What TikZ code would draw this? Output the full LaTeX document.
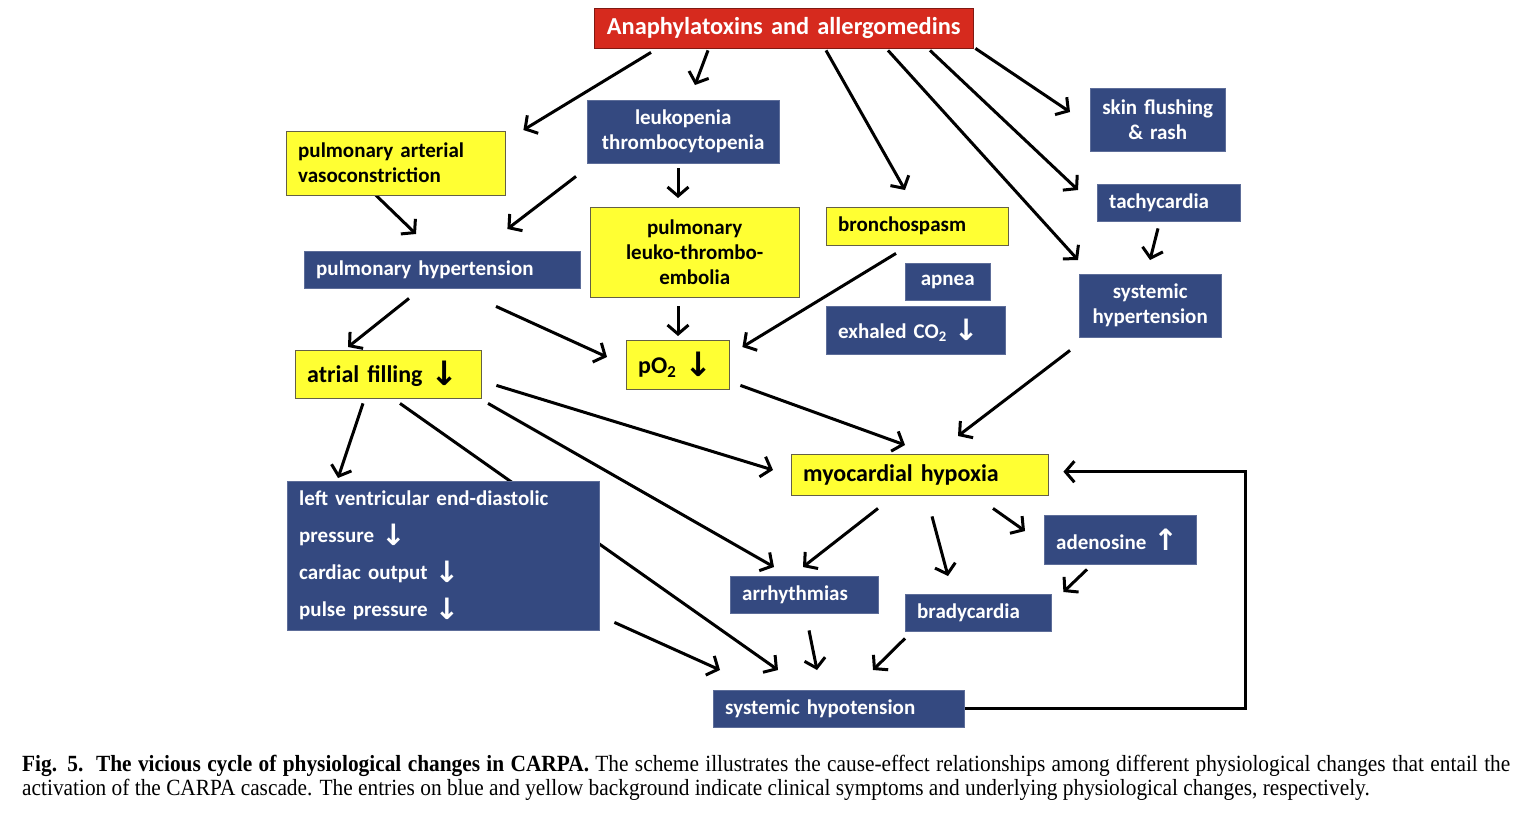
\documentclass[tikz,border=0pt]{standalone}
\usepackage{fontspec}
\setmainfont{Carlito}
\newfontfamily\capfont[FakeStretch=0.92]{Liberation Serif}
\newfontfamily\symfont{DejaVu Sans}
\usetikzlibrary{arrows.meta, calc, backgrounds}
\definecolor{BoxBlue}{HTML}{344980}
\definecolor{BoxYellow}{HTML}{FFFF33}
\definecolor{BoxRed}{HTML}{D62A1E}
\newcommand{\arrdown}{\raisebox{-0.12em}{\scalebox{1.4}{\symfont ↓}}}
\newcommand{\arrup}{\raisebox{-0.05em}{\scalebox{1.4}{\symfont ↑}}}

\begin{document}
\begin{tikzpicture}[x=1pt, y=-1pt,
    box/.style={anchor=north west, inner xsep=12pt, inner ysep=2pt,
                font=\fontsize{21}{25}\selectfont\bfseries},
    blue box/.style={box, fill=BoxBlue, draw=BoxBlue!80!white, text=white},
    yellow box/.style={box, fill=BoxYellow, draw=black!70!yellow, text=black},
    red box/.style={box, fill=BoxRed, draw=BoxRed!60!black, text=white,
                font=\fontsize{24.4}{28}\selectfont\bfseries},
    large text/.style={font=\fontsize{24}{28}\selectfont\bfseries},
    arr/.style={line width=3pt, -{Straight Barb[length=9pt, width=21pt]}}
]
    \useasboundingbox (0,0) rectangle (1534,822);

    % Trigger
    \node[red box, text width=355pt, align=center, minimum height=40pt] (anaph) at (594,8) {Anaphylatoxins and allergomedins};

    % Upper row
    \node[blue box, text width=168pt, align=center, minimum height=63pt] (leuko) at (587,100) {leukopenia\\thrombocytopenia};
    \node[yellow box, text width=195pt, align=left, minimum height=64pt] (pav) at (286,131) {pulmonary arterial\\vasoconstriction};
    \node[blue box, text width=111pt, align=center, minimum height=63pt] (skin) at (1090,88) {skin flushing\\\& rash};
    \node[blue box, text width=119pt, align=left, minimum height=37pt] (tachy) at (1097,184) {tachycardia};
    \node[yellow box, text width=158pt, align=left, minimum height=38pt] (bronch) at (826,207) {bronchospasm};
    \node[yellow box, text width=185pt, align=center, minimum height=90pt] (pltemb) at (590,207) {pulmonary\\leuko-thrombo-\\embolia};
    \node[blue box, text width=252pt, align=left, minimum height=37pt] (ph) at (304,251) {pulmonary hypertension};
    \node[blue box, text width=61pt, align=center, minimum height=37pt] (apnea) at (905,263) {apnea};
    \node[blue box, text width=155pt, align=left, minimum height=48pt] (exco) at (826,306) {exhaled CO\textsubscript{2} \arrdown};
    \node[blue box, text width=118pt, align=center, minimum height=63pt] (syshyp) at (1079,274) {systemic\\hypertension};

    % Middle row
    \node[yellow box, large text, text width=79pt, align=left, minimum height=49pt] (po2) at (626,340) {pO\textsubscript{2} \arrdown};
    \node[yellow box, large text, text width=162pt, align=left, minimum height=48pt] (atrial) at (295,350) {atrial filling \arrdown};
    \node[yellow box, large text, text width=233pt, align=left, minimum height=41pt] (myo) at (791,454) {myocardial hypoxia};

    % Lower row
    \node[blue box, text width=288pt, align=left, minimum height=149pt,
          font=\fontsize{21}{37}\selectfont\bfseries] (lved) at (287,481)
          {left ventricular end-diastolic\\pressure \arrdown\\cardiac output \arrdown\\pulse pressure \arrdown};
    \node[blue box, text width=128pt, align=left, minimum height=49pt] (adeno) at (1044,515) {adenosine \arrup};
    \node[blue box, text width=124pt, align=left, minimum height=37pt] (arrhy) at (730,576) {arrhythmias};
    \node[blue box, text width=122pt, align=left, minimum height=37pt] (brady) at (905,594) {bradycardia};
    \node[blue box, text width=227pt, align=left, minimum height=37pt] (syshypo) at (713,690) {systemic hypotension};

    % Caption
    \node[anchor=north west, text width=1488pt, align=justify, inner sep=0pt,
          font=\capfont\fontsize{23.2}{24}\selectfont] (caption) at (22,755)
          {\textbf{Fig. 5.\ \ The vicious cycle of physiological changes in CARPA.} The scheme illustrates the cause-effect relationships among different physiological changes that entail the\linebreak activation of the CARPA cascade. The entries on blue and yellow background indicate clinical symptoms and underlying physiological changes, respectively.};

    % Arrows (behind the boxes)
    \begin{pgfonlayer}{background}
        \fill[white] (0,0) rectangle (1534,822);
        \draw[arr] ($(anaph.south west)+(57,4)$) -- ($(pav.north east)+(18,-1)$);
        \draw[arr] ($(anaph.south west)+(114,2)$) -- ($(leuko.north west)+(108,-15)$);
        \draw[arr] ($(anaph.south west)+(232,2)$) -- ($(bronch.north west)+(79,-17)$);
        \draw[arr] ($(anaph.south west)+(294,2)$) -- ($(syshyp.north west)+(-1,-14)$);
        \draw[arr] ($(anaph.south west)+(336,2)$) -- ($(tachy.north west)+(-19,6)$);
        \draw[arr] ($(anaph.south east)+(2,0)$) -- ($(skin.north west)+(-20,24)$);
        \draw[arr] ($(leuko.south west)+(-11,13)$) -- ($(ph.north east)+(-73,-22)$);
        \draw[arr] ($(pav.south west)+(88,-2)$) -- ($(ph.north west)+(112,-17)$);
        \draw[arr] ($(leuko.south west)+(91,5)$) -- ($(pltemb.north west)+(88,-9)$);
        \draw[arr] ($(pltemb.south west)+(88,9)$) -- ($(po2.north west)+(52,-4)$);
        \draw[arr] ($(ph.south west)+(105,10)$) -- ($(atrial.north west)+(53,-3)$);
        \draw[arr] ($(ph.south west)+(192,18)$) -- ($(po2.north west)+(-19,17)$);
        \draw[arr] ($(bronch.south west)+(70,8)$) -- ($(po2.north east)+(13,7)$);
        \draw[arr] ($(tachy.south west)+(61,7)$) -- ($(syshyp.north west)+(71,-14)$);
        \draw[arr] ($(syshyp.south west)+(-9,13)$) -- ($(myo.north west)+(167,-18)$);
        \draw[arr] ($(po2.south east)+(11,-4)$) -- ($(myo.north west)+(114,-9)$);
        \draw[arr] ($(atrial.south east)+(15,-13)$) -- ($(myo.north west)+(-18,16)$);
        \draw[arr] ($(atrial.south west)+(68,5)$) -- ($(lved.north west)+(51,-3)$);
        \draw[arr] ($(atrial.south west)+(193,5)$) -- ($(arrhy.north west)+(44,-9)$);
        \draw[arr] ($(atrial.south west)+(105,5)$) -- ($(syshypo.north west)+(65,-20)$);
        \draw[arr] ($(lved.south east)+(15,-8)$) -- ($(syshypo.north west)+(7,-20)$);
        \draw[arr] ($(myo.south west)+(87,13)$) -- ($(arrhy.north west)+(73,-9)$);
        \draw[arr] ($(myo.south west)+(141,21)$) -- ($(brady.north west)+(43,-18)$);
        \draw[arr] ($(myo.south west)+(202,13)$) -- ($(adeno.north west)+(-19,16)$);
        \draw[arr] ($(adeno.south west)+(43,5)$) -- ($(brady.north east)+(12,-2)$);
        \draw[arr] ($(arrhy.south west)+(79,17)$) -- ($(syshypo.north west)+(104,-20)$);
        \draw[arr] ($(brady.south west)+(0,7)$) -- ($(syshypo.north west)+(160,-20)$);
        % Feedback loop
        \draw[arr] (syshypo.east) -- ++(281,0) |- ($(myo.east)+(15,-3)$);
    \end{pgfonlayer}
\end{tikzpicture}
\end{document}
